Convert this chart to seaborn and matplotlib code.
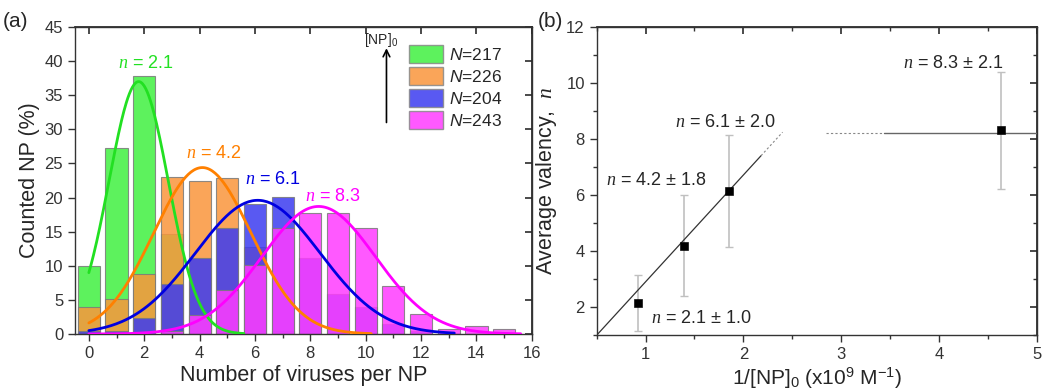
import numpy as np
import pandas as pd
import matplotlib
matplotlib.use("Agg")
import matplotlib.pyplot as plt
from matplotlib.patches import Patch
import seaborn as sns

sns.set_theme(style="white")
plt.rcParams['font.family'] = ['Liberation Sans', 'DejaVu Sans']
plt.rcParams['mathtext.fontset'] = 'custom'
plt.rcParams['mathtext.rm'] = 'Liberation Sans'
plt.rcParams['mathtext.it'] = 'Liberation Serif:italic'
plt.rcParams['mathtext.sf'] = 'Liberation Sans:italic'

# ---------------- data: panel (a) ----------------
viruses = list(range(16))
pct_217 = [10.0, 27.2, 37.8, 14.7, 0, 0, 0, 0, 0, 0, 0, 0, 0, 0, 0, 0]
pct_226 = [4.0, 5.2, 8.8, 23.0, 22.5, 22.9, 12.8, 0.5, 0, 0, 0, 0, 0, 0, 0, 0]
pct_204 = [0.4, 0.4, 2.4, 7.3, 11.2, 15.6, 19.0, 20.1, 11.2, 5.9, 3.9, 1.5, 0.5, 0, 0, 0]
pct_243 = [0, 0, 0, 0.4, 2.8, 6.4, 10.1, 15.6, 17.7, 17.7, 15.6, 7.0, 2.9, 0.7, 1.2, 0.8]
series_labels = ["217", "226", "204", "243"]
mean_valency = ["2.1", "4.2", "6.1", "8.3"]
# Gaussian fit parameters
fit_center = [1.8, 4.1, 6.1, 8.3]
fit_amp = [37.0, 24.4, 19.6, 18.7]
fit_sigma = [1.07, 1.76, 2.25, 2.05]
fit_range = [(0, 5.6), (0, 10.2), (0, 13.2), (0, 15.6)]

# ---------------- data: panel (b) ----------------
inv_np = [0.92, 1.39, 1.85, 4.63]
avg_n = [2.15, 4.2, 6.15, 8.3]
n_err = [1.0, 1.8, 2.0, 2.1]
n_text = ["2.1 \u00b1 1.0", "4.2 \u00b1 1.8", "6.1 \u00b1 2.0", "8.3 \u00b1 2.1"]
fit_intercept = -0.905
fit_slope = 3.81
plateau = 8.2

bar_colors = ['#40f040', '#fa963c', '#3c3cf0', '#ff3cff']
line_colors = ['#22e022', '#ff8000', '#0000e0', '#ff00ff']

fig = plt.figure(figsize=(10.43, 3.91), dpi=100)
axa = fig.add_axes([0.0719, 0.1458, 0.438, 0.785])
axb = fig.add_axes([0.572, 0.1425, 0.4223, 0.7892])

for vals, c in zip([pct_217, pct_226, pct_204, pct_243], bar_colors):
    sns.barplot(x=viruses, y=vals, native_scale=True, width=0.8, color=c,
                alpha=0.85, edgecolor='#7a7a7a', linewidth=0.8, saturation=1,
                ax=axa, zorder=2)

for mu, a, s, (x0, x1), c in zip(fit_center, fit_amp, fit_sigma, fit_range, line_colors):
    xg = np.linspace(x0, x1, 200)
    sns.lineplot(x=xg, y=a * np.exp(-(xg - mu) ** 2 / (2 * s ** 2)), color=c,
                 linewidth=2.0, ax=axa, zorder=3)

lbl_pos = [(2.05, 39.7), (4.5, 26.5), (6.65, 22.6), (8.8, 20.2)]
for (lx, ly), t, c in zip(lbl_pos, mean_valency, line_colors):
    axa.text(lx, ly, r"$n$ = " + t, color=c, fontsize=13, ha='center', va='center',
             zorder=5)

axa.set_xlim(-0.5, 16)
axa.set_ylim(0, 45)
axa.set_xticks(range(0, 17, 2))
axa.set_xticks(range(0, 17), minor=True)
axa.set_yticks(range(0, 46, 5))
axa.set_xlabel("Number of viruses per NP", fontsize=15.5, labelpad=3)
axa.set_ylabel("Counted NP (%)", fontsize=15.5, labelpad=3)

handles = [Patch(facecolor=c, edgecolor='#888888', alpha=0.85) for c in bar_colors]
axa.legend(handles, [r"$\mathsf{N}$=" + s for s in series_labels], frameon=False,
           loc='upper left', bbox_to_anchor=(0.715, 0.965), fontsize=12.5,
           handlelength=2.0, handleheight=1.2, labelspacing=0.25, handletextpad=0.3,
           borderaxespad=0)
axa.annotate("", xy=(10.75, 42.3), xytext=(10.75, 30.6),
             arrowprops=dict(arrowstyle='->', color='black', lw=1.2))
axa.text(10.55, 43.1, r"[NP]$_0$", fontsize=10, ha='center', va='center')

# ---------------- panel (b) ----------------
axb.errorbar(inv_np, avg_n, yerr=n_err, fmt='none', ecolor='#c0c0c0',
             elinewidth=1.2, capsize=3, zorder=2)
sns.scatterplot(x=inv_np, y=avg_n, marker='s', color='black', s=30,
                edgecolor='black', ax=axb, zorder=4)

xs = np.array([0.5, 2.18])
axb.plot(xs, fit_intercept + fit_slope * xs, color='#333333', lw=0.9, zorder=3)
xs2 = np.array([2.18, 2.4])
axb.plot(xs2, fit_intercept + fit_slope * xs2, color='#888888', lw=0.8,
         ls=(0, (2, 2)), zorder=3)
axb.plot([2.84, 3.44], [plateau, plateau], color='#888888', lw=0.8,
         ls=(0, (2, 2)), zorder=3)
axb.plot([3.44, 5.0], [plateau, plateau], color='#666666', lw=1.0, zorder=3)

txt_pos = [(1.06, 1.6), (0.6, 6.5), (1.3, 8.6), (3.63, 10.7)]
for (tx, ty), t in zip(txt_pos, n_text):
    axb.text(tx, ty, r"$n$ = " + t, fontsize=13, ha='left', va='center')

axb.set_xlim(0.5, 5)
axb.set_ylim(1, 12)
axb.set_xticks([1, 2, 3, 4, 5])
axb.set_xticks(np.arange(0.5, 5.01, 0.5), minor=True)
axb.set_yticks([2, 4, 6, 8, 10, 12])
axb.set_yticks(range(1, 13), minor=True)
axb.set_xlabel(r"1/[NP]$_0$ (x10$^9$ M$^{-1}$)", fontsize=15, labelpad=3)
axb.set_ylabel(r"Average valency,  $n$", fontsize=15.5, labelpad=5)

for ax in (axa, axb):
    for sp in ax.spines.values():
        sp.set_visible(True)
        sp.set_color('#333333')
        sp.set_linewidth(1.0)
    ax.tick_params(axis='both', which='both', direction='out', colors='#333333',
                   labelcolor='#333333', labelsize=12, bottom=True, left=True)
    ax.tick_params(which='major', length=5, width=1)
    ax.tick_params(which='minor', length=3, width=1)
    ax.grid(False)
    top = ax.secondary_xaxis('top')
    top.set_xticks(ax.get_xticks(minor=False))
    top.set_xticks(ax.get_xticks(minor=True), minor=True)
    top.tick_params(which='both', direction='in', labeltop=False, colors='#333333')
    top.tick_params(which='major', length=5)
    top.tick_params(which='minor', length=0 if ax is axa else 3)
    right = ax.secondary_yaxis('right')
    right.set_yticks(ax.get_yticks(minor=False))
    right.set_yticks(ax.get_yticks(minor=True), minor=True)
    right.tick_params(which='both', direction='in', labelright=False, colors='#333333')
    right.tick_params(which='major', length=5)
    right.tick_params(which='minor', length=3)
axa.set_xlim(-0.5, 16)
axb.set_xlim(0.5, 5)

fig.text(0.003, 0.945, "(a)", fontsize=15, ha='left', va='center')
fig.text(0.516, 0.945, "(b)", fontsize=15, ha='left', va='center')

fig.savefig("out.png", dpi=100)
